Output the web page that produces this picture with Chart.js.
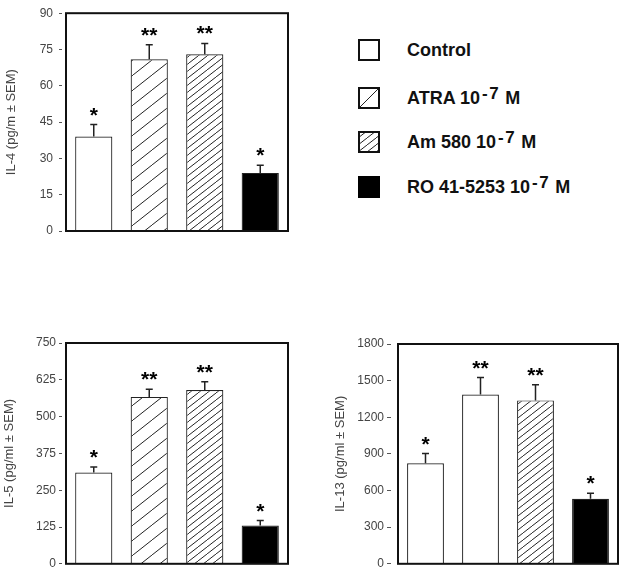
<!DOCTYPE html>
<html>
<head>
<meta charset="utf-8">
<script src="https://cdn.jsdelivr.net/npm/chart.js@4.4.0/dist/chart.umd.min.js"></script>
<style>
  body { margin: 0; background: #fff; }
  #wrap { position: relative; width: 625px; height: 574px; overflow: hidden; font-family: "Liberation Sans", Arial, sans-serif; }
  #wrap canvas { position: absolute; }
  .lbl { position: absolute; left: 407px; font-weight: bold; font-size: 18px; line-height: 18px; color: #111; white-space: nowrap; }
  .lbl sup { font-size: 17px; line-height: 0; vertical-align: 5px; margin-left: 2px; margin-right: 5px; letter-spacing: 1.5px; }
</style>
</head>
<body>
<div id="wrap">
  <canvas id="il4" width="300" height="245" style="left:0;top:0"></canvas>
  <canvas id="il5" width="300" height="244" style="left:0;top:330px"></canvas>
  <canvas id="il13" width="300" height="244" style="left:325px;top:330px"></canvas>
</div>
<script>
// groupes (legende)
var groups = ['Control', 'ATRA 10-7 M', 'Am 580 10-7 M', 'RO 41-5253 10-7 M'];
var legendBase = ['Control', 'ATRA 10', 'Am 580 10', 'RO 41-5253 10'];
var legendExp = ['', '-7', '-7', '-7'];
var legendTail = ['', 'M', 'M', 'M'];

// IL-4
var il4Values = [39, 71, 73, 24];
var il4Errors = [5, 6, 4.5, 3.2];
var il4Stars = ['*', '**', '**', '*'];
var il4Ticks = [0, 15, 30, 45, 60, 75, 90];

// IL-5
var il5Values = [310, 567, 590, 130];
var il5Errors = [19, 26, 28, 17];
var il5Stars = ['*', '**', '**', '*'];
var il5Ticks = [0, 125, 250, 375, 500, 625, 750];

// IL-13
var il13Values = [823, 1387, 1338, 532];
var il13Errors = [80, 138, 128, 46];
var il13Stars = ['*', '**', '**', '*'];
var il13Ticks = [0, 300, 600, 900, 1200, 1500, 1800];

Chart.defaults.font.family = '"Liberation Sans", Arial, sans-serif';

// hachures : une ligne par tuile, pente h/w
function makeHatch(w, h) {
    var c = document.createElement('canvas');
    c.width = w; c.height = h;
    var g = c.getContext('2d');
    g.fillStyle = '#fff';
    g.fillRect(0, 0, w, h);
    g.strokeStyle = '#222';
    g.lineWidth = 1;
    g.beginPath();
    [-w, 0, w].forEach(function(dx) {
        g.moveTo(dx, h);
        g.lineTo(dx + w, 0);
    });
    g.stroke();
    return g.createPattern(c, 'repeat');
}

var sparse = makeHatch(19, 15);
var dense = makeHatch(9, 7);

// barres d'erreur + etoiles
var errStars = {
    id: 'errStars',
    afterDraw: function(chart, args, opts) {
        var ctx = chart.ctx;
        var y = chart.scales.y;
        var meta = chart.getDatasetMeta(0);
        var vals = chart.data.datasets[0].data;
        ctx.save();
        meta.data.forEach(function(bar, i) {
            var top = y.getPixelForValue(vals[i] + opts.errors[i]);
            ctx.strokeStyle = '#222';
            ctx.lineWidth = 1.5;
            ctx.beginPath();
            ctx.moveTo(bar.x, bar.y);
            ctx.lineTo(bar.x, top);
            ctx.moveTo(bar.x - 3.5, top);
            ctx.lineTo(bar.x + 3.5, top);
            ctx.stroke();
            ctx.fillStyle = '#000';
            ctx.font = 'bold 21px "Liberation Sans", Arial, sans-serif';
            ctx.textAlign = 'center';
            ctx.textBaseline = 'alphabetic';
            ctx.fillText(opts.stars[i], bar.x, top - 3);
        });
        // cadre
        var a = chart.chartArea;
        ctx.strokeStyle = '#111';
        ctx.lineWidth = 2;
        ctx.strokeRect(a.left, a.top, a.right - a.left, a.bottom - a.top);
        ctx.restore();
    }
};

function makePanel(id, values, errors, stars, ticks, title, fills, box) {
    var canvas = document.getElementById(id);
    return new Chart(canvas, {
        type: 'bar',
        data: {
            labels: groups,
            datasets: [{
                data: values,
                backgroundColor: fills,
                borderColor: '#222',
                borderWidth: 1.2,
                barPercentage: 0.67,
                categoryPercentage: 1
            }]
        },
        options: {
            responsive: false,
            animation: false,
            events: [],
            layout: {
                padding: { left: 0, top: box.top, right: canvas.width - box.right, bottom: canvas.height - box.bottom }
            },
            plugins: {
                legend: { display: false },
                tooltip: { enabled: false },
                errStars: { errors: errors, stars: stars }
            },
            scales: {
                x: { display: false },
                y: {
                    min: ticks[0],
                    max: ticks[ticks.length - 1],
                    afterBuildTicks: function(s) {
                        s.ticks = ticks.map(function(v) { return { value: v }; });
                    },
                    afterFit: function(s) { s.width = box.left; },
                    border: { display: false },
                    grid: {
                        drawOnChartArea: false,
                        tickLength: box.tickLen,
                        tickBorderDash: box.tickDash,
                        tickColor: '#555',
                        tickWidth: 1
                    },
                    ticks: {
                        padding: box.tickPad,
                        color: '#444',
                        font: { size: 12 },
                        callback: function(v) { return String(v); }
                    },
                    title: {
                        display: true,
                        text: title,
                        color: '#444',
                        font: { size: 13 },
                        padding: { top: box.titlePad, bottom: 0 }
                    }
                }
            }
        },
        plugins: [errStars]
    });
}

makePanel('il4', il4Values, il4Errors, il4Stars, il4Ticks, 'IL-4 (pg/m \u00b1 SEM)',
    ['#fff', sparse, dense, '#000'],
    { left: 66, right: 288, top: 10, bottom: 231, tickLen: 7, tickDash: [3, 4], tickPad: 6, titlePad: 4 });

makePanel('il5', il5Values, il5Errors, il5Stars, il5Ticks, 'IL-5 (pg/ml \u00b1 SEM)',
    ['#fff', sparse, dense, '#000'],
    { left: 66, right: 288, top: 13, bottom: 234, tickLen: 7, tickDash: [3, 4], tickPad: 3, titlePad: 2 });

makePanel('il13', il13Values, il13Errors, il13Stars, il13Ticks, 'IL-13 (pg/ml \u00b1 SEM)',
    ['#fff', '#fff', dense, '#000'],
    { left: 73, right: 293, top: 14, bottom: 235, tickLen: 11, tickDash: [4, 7], tickPad: 3, titlePad: 8 });

// legende
var keyTops = [39, 87, 131, 176];
var wrap = document.getElementById('wrap');
groups.forEach(function(name, i) {
    var sw = document.createElement('canvas');
    sw.width = 22; sw.height = 22;
    sw.style.left = '358px';
    sw.style.top = keyTops[i] + 'px';
    var g = sw.getContext('2d');
    if (i === 3) {
        g.fillStyle = '#000';
        g.fillRect(0, 0, 22, 22);
    } else {
        g.fillStyle = i === 2 ? dense : '#fff';
        g.fillRect(1, 1, 20, 20);
        if (i === 1) {
            g.strokeStyle = '#222';
            g.lineWidth = 1;
            g.beginPath();
            g.moveTo(2, 20);
            g.lineTo(20, 2);
            g.stroke();
        }
        g.strokeStyle = '#111';
        g.lineWidth = 2;
        g.strokeRect(1, 1, 20, 20);
    }
    wrap.appendChild(sw);

    var lbl = document.createElement('div');
    lbl.className = 'lbl';
    lbl.style.top = (keyTops[i] + 17 - 15.2) + 'px';
    lbl.appendChild(document.createTextNode(legendBase[i]));
    if (legendExp[i]) {
        var sup = document.createElement('sup');
        sup.textContent = legendExp[i];
        lbl.appendChild(sup);
        lbl.appendChild(document.createTextNode(legendTail[i]));
    }
    wrap.appendChild(lbl);
});
</script>
</body>
</html>
